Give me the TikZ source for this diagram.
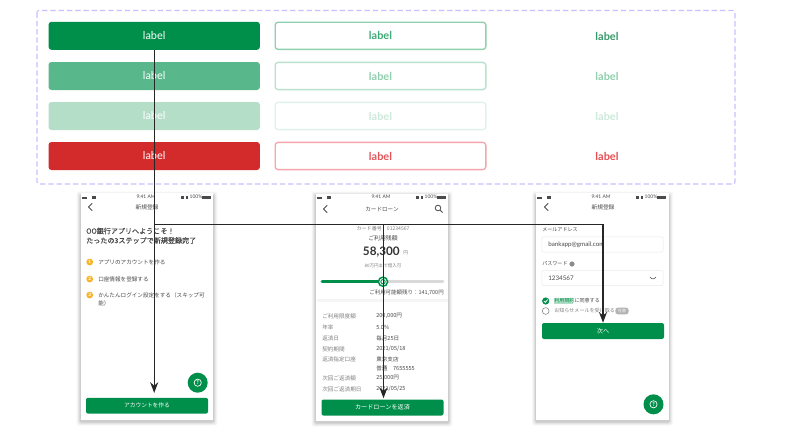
\documentclass[tikz,border=0pt]{standalone}
\usepackage{fontspec}
\setmainfont{Lato}
\newfontfamily\jp{Noto Sans CJK JP}
\newfontfamily\jph[FakeBold=0.5]{Noto Sans CJK JP}
\usetikzlibrary{arrows.meta,calc}
\definecolor{gA}{HTML}{008F4A}
\definecolor{gB}{HTML}{58B78B}
\definecolor{gC}{HTML}{B5DEC9}
\definecolor{rA}{HTML}{D32B2B}
\definecolor{olA}{HTML}{8FD0AE}
\definecolor{olB}{HTML}{B8E2CC}
\definecolor{olC}{HTML}{E0F2EA}
\definecolor{olR}{HTML}{F5A6AA}
\definecolor{txA}{HTML}{3DAB76}
\definecolor{txB}{HTML}{8FCFAD}
\definecolor{txC}{HTML}{CDE9DB}
\definecolor{txR}{HTML}{E3555A}
\definecolor{ink}{HTML}{4A4A4A}
\definecolor{mut}{HTML}{808080}
\definecolor{frame}{HTML}{CBBEFF}
\definecolor{amber}{HTML}{F6B42A}
\newcommand{\fs}[1]{\fontsize{#1}{#1}\selectfont}
\tikzset{
  x=0.75pt,y=-0.75pt,
  solid btn/.style={rounded corners=2.2pt,minimum width=158.5pt,minimum height=21pt,inner sep=0,font=\fs{8.2},text=white,fill=#1},
  line btn/.style={rounded corners=2.2pt,minimum width=158pt,minimum height=20.4pt,inner sep=0,font=\fs{8.2}\bfseries,fill=white,draw=#1,line width=1pt},
  bare lbl/.style={inner sep=0,font=\fs{8.2}\bfseries,text=#1},
  phone/.style={fill=white,minimum width=99.4pt,minimum height=170pt,inner sep=0},
  cta/.style={fill=gA,rounded corners=1.5pt,minimum width=91.5pt,minimum height=11.8pt,inner sep=0,text=white,font=\jp\fs{4.3}},
  fab/.style={circle,fill=gA,minimum size=15pt,inner sep=0},
  input/.style={draw=black!8,rounded corners=1.5pt,minimum width=91pt,minimum height=11.5pt,inner sep=0,fill=white},
  jt/.style={inner sep=0,font=\jp\fs{#1},text=ink},
  jt/.default=4.5,
  rowk/.style={inner sep=0,anchor=west,font=\jp\fs{4.2},text=mut},
  rowv/.style={inner sep=0,anchor=west,font=\jp\fs{4.2},text=ink},
  stat/.style={inner sep=0,font=\fs{3.7},text=ink},
  conn/.style={draw=black!85,line width=1pt},
  tip/.style={-{Stealth[length=8pt,width=6pt]}},
}
\newcommand{\statusbar}[1]{%
  \node[stat] at (#1+65,197.2) {9:41 AM};
  \fill[ink] (#1+1,197) rectangle ++(5,1.8);
  \fill[ink] (#1+11,196.2) rectangle ++(4,2.4);
  \node[stat] at (#1+115,197.2) {100\%};
  \fill[ink] (#1+121,195.9) rectangle ++(9,2.8);
  \fill[ink] (#1+100,196) rectangle ++(3,2.6);
  \fill[ink] (#1+105,196) rectangle ++(1.5,2.6);
}
\newcommand{\chev}[2]{\draw[ink,line width=0.7pt,line cap=round] (#1+2,#2-3.5) -- (#1-1.5,#2) -- (#1+2,#2+3.5);}
\newcommand{\softshadow}[4]{%
  \foreach \dd/\op in {4/0.03,3/0.04,2/0.06,1/0.08}{
    \fill[black,opacity=\op,rounded corners=1.5pt] (#1-\dd,#2-\dd+2) rectangle (#3+\dd,#4+\dd+1.5);
  }
}
\begin{document}
\begin{tikzpicture}
\useasboundingbox (0,0) rectangle (800,436);
\fill[white] (0,0) rectangle (800,436);

% frame of variants
\draw[frame,line width=0.8pt,dash pattern=on 4pt off 2.2pt,rounded corners=1.5pt] (37,10.5) rectangle (735,184);

\node[solid btn=gA] (btnA) at (154.2,35.8) {label};
\node[solid btn=gB] (btnB) at (154.2,76) {label};
\node[solid btn=gC] (btnC) at (154.2,116) {label};
\node[solid btn=rA] (btnD) at (154.2,156) {label};

\node[line btn=olA,text=txA] (outA) at (380.5,35.8) {label};
\node[line btn=olB,text=txB] (outB) at (380.5,76) {label};
\node[line btn=olC,text=txC] (outC) at (380.5,116) {label};
\node[line btn=olR,text=txR] (outD) at (380.5,156) {label};

\node[bare lbl=txA!90!black] (txtA) at (607,36) {label};
\node[bare lbl=txB] (txtB) at (607,76) {label};
\node[bare lbl=txC] (txtC) at (607,116) {label};
\node[bare lbl=txR!90!red] (txtD) at (607,156) {label};

% phones
\softshadow{80.7}{193.5}{213.3}{420}
\softshadow{315.7}{193.5}{448.3}{421}
\softshadow{536.2}{193.5}{668.8}{420}
\node[phone] (ph1) at (147,306.8) {};
\node[phone] (ph2) at (382,307.3) {};
\node[phone] (ph3) at (602.5,306.8) {};

% phone 1
\statusbar{81}
\chev{90}{207}
\node[jt=4.3] (t1) at (147,207) {新規登録};
\node[jt=5.3,anchor=west,font=\jph\fs{5.3}] (h1) at (86,231) {OO銀行アプリへようこそ！};
\node[jt=5.3,anchor=west,font=\jph\fs{5.3}] (h2) at (86,240.5) {たったの3ステップで新規登録完了};
\foreach \yy/\n/\tx in {262/1/アプリのアカウントを作る,279/2/口座情報を登録する,295/3/かんたんログイン設定をする（スキップ可}{
  \fill[amber] (89.7,\yy) circle (3.4);
  \node[inner sep=0,text=white,font=\fs{3.5}\bfseries] at (89.7,\yy) {\n};
  \node[jt=4.2,anchor=west] at (98,\yy) {\tx};
}
\node[jt=4.2,anchor=west] (cont) at (98,303.5) {能）};
\node[fab] (fab1) at (197.7,382.7) {};
\draw[white,line width=0.5pt] (fab1) circle (3.6);
\node[inner sep=0,text=white,font=\fs{4}\bfseries] at (fab1) {?};
\node[cta] (acct) at (147,405.7) {アカウントを作る};

% phone 2
\statusbar{316}
\chev{325}{209}
\node[jt=4.2] (t2) at (382,209) {カードローン};
\draw[ink,line width=0.6pt] (438,208) circle (2.8);
\draw[ink,line width=0.6pt] (440,210) -- (442.5,212.5);
\node[jt=3.8,text=mut] (cno) at (383,228.5) {カード番号\quad 01234567};
\node[jt=4.4] (bal0) at (383,238.5) {ご利用残額};
\node[inner sep=0,text=black!80,font=\fs{8.8}\bfseries,anchor=east] (bal) at (400,252) {58,300};
\node[jt=3.6,anchor=west,text=mut] (yen) at (403,252.5) {円};
\node[jt=3.4,text=mut] (lim) at (383,266) {80万円まで借入可};
\draw[black!15,line width=2pt,line cap=round] (383,281.7) -- (443,281.7);
\draw[gA,line width=2pt,line cap=round] (322,281.7) -- (383,281.7);
\fill[white] (383,281.7) circle (5);
\draw[gA,line width=1.1pt] (383,281.7) circle (4.6);
\draw[gA,line width=0.7pt] (383,281.7) circle (2.2);
\node[jt=4.1,anchor=east] (rem) at (444,293) {ご利用可能額残り：141,700円};
\fill[black!4] (316.5,298.5) rectangle (447.5,302);
\foreach \yy/\rk/\rv in {316/{ご利用限度額}/{200,000円},327/{年率}/{5.0\%},338/{返済日}/{毎月25日},349/{契約期間}/{2021/05/18},359/{返済指定口座}/{東京支店},368/{}/{普通\quad 7655555},378/{次回ご返済額}/{25,000円},389/{次回ご返済期日}/{2021/05/25}}{
  \node[rowk] at (322,\yy) {\rk};
  \node[rowv] at (376,\yy) {\rv};
}
\node[cta,font=\jp\fs{4.6},minimum height=12pt] (card) at (382.5,407.5) {カードローンを返済};

% phone 3
\statusbar{536}
\chev{546}{207}
\node[jt=4.3] (t3) at (603,207.5) {新規登録};
\node[jt=3.8,anchor=west] (mail) at (542,230) {メールアドレス};
\node[input] (in1) at (602.5,244.5) {};
\node[inner sep=0,anchor=west,font=\fs{4.7},text=ink] (in1t) at (548,245) {bankapp@gmail.com};
\node[jt=3.8,anchor=west] (pw) at (542,264) {パスワード};
\fill[black!45] (572,264) circle (2.6);
\node[input] (in2) at (602.5,278) {};
\node[inner sep=0,anchor=west,font=\fs{4.7},text=ink] (in2t) at (548,278) {1234567};
\draw[ink,line width=0.4pt] (650,277) .. controls (652,279.5) and (654,279.5) .. (656,277);
\fill[gA] (545.7,301) circle (3.6);
\draw[white,line width=0.6pt] (543.9,301) -- (545.3,302.4) -- (547.6,299.6);
\fill[gC] (553.5,298) rectangle (573,304);
\node[jt=3.8,anchor=west] (ag) at (554,301) {{\color{gA}利用規約}に同意する};
\draw[black!50,line width=0.4pt,fill=white] (545.7,311) circle (3.4);
\node[jt=3.8,anchor=west,text=mut] (nt) at (554,311) {お知らせメールを受け取る};
\node[fill=black!30,rounded corners=2pt,minimum width=10pt,minimum height=5pt,inner sep=0,text=white,font=\jp\fs{3}] (opt) at (622,311) {任意};
\node[cta,font=\jp\fs{4.6},minimum height=12pt] (next) at (603,331) {次へ};
\node[fab] (fab3) at (653.5,404.3) {};
\draw[white,line width=0.5pt] (fab3) circle (3.6);
\node[inner sep=0,text=white,font=\fs{4}\bfseries] at (fab3) {?};

% connectors
\coordinate (hub) at (btnA.south |- 0,224.5);
\draw[conn,tip,shorten >=3.5pt] (btnA.south) -- (acct.north -| btnA.south);
\draw[conn,tip] (hub) -| ($(card.north)+(1,-1)$);
\draw[conn,tip] (hub) -| (next.north);
\end{tikzpicture}
\end{document}
